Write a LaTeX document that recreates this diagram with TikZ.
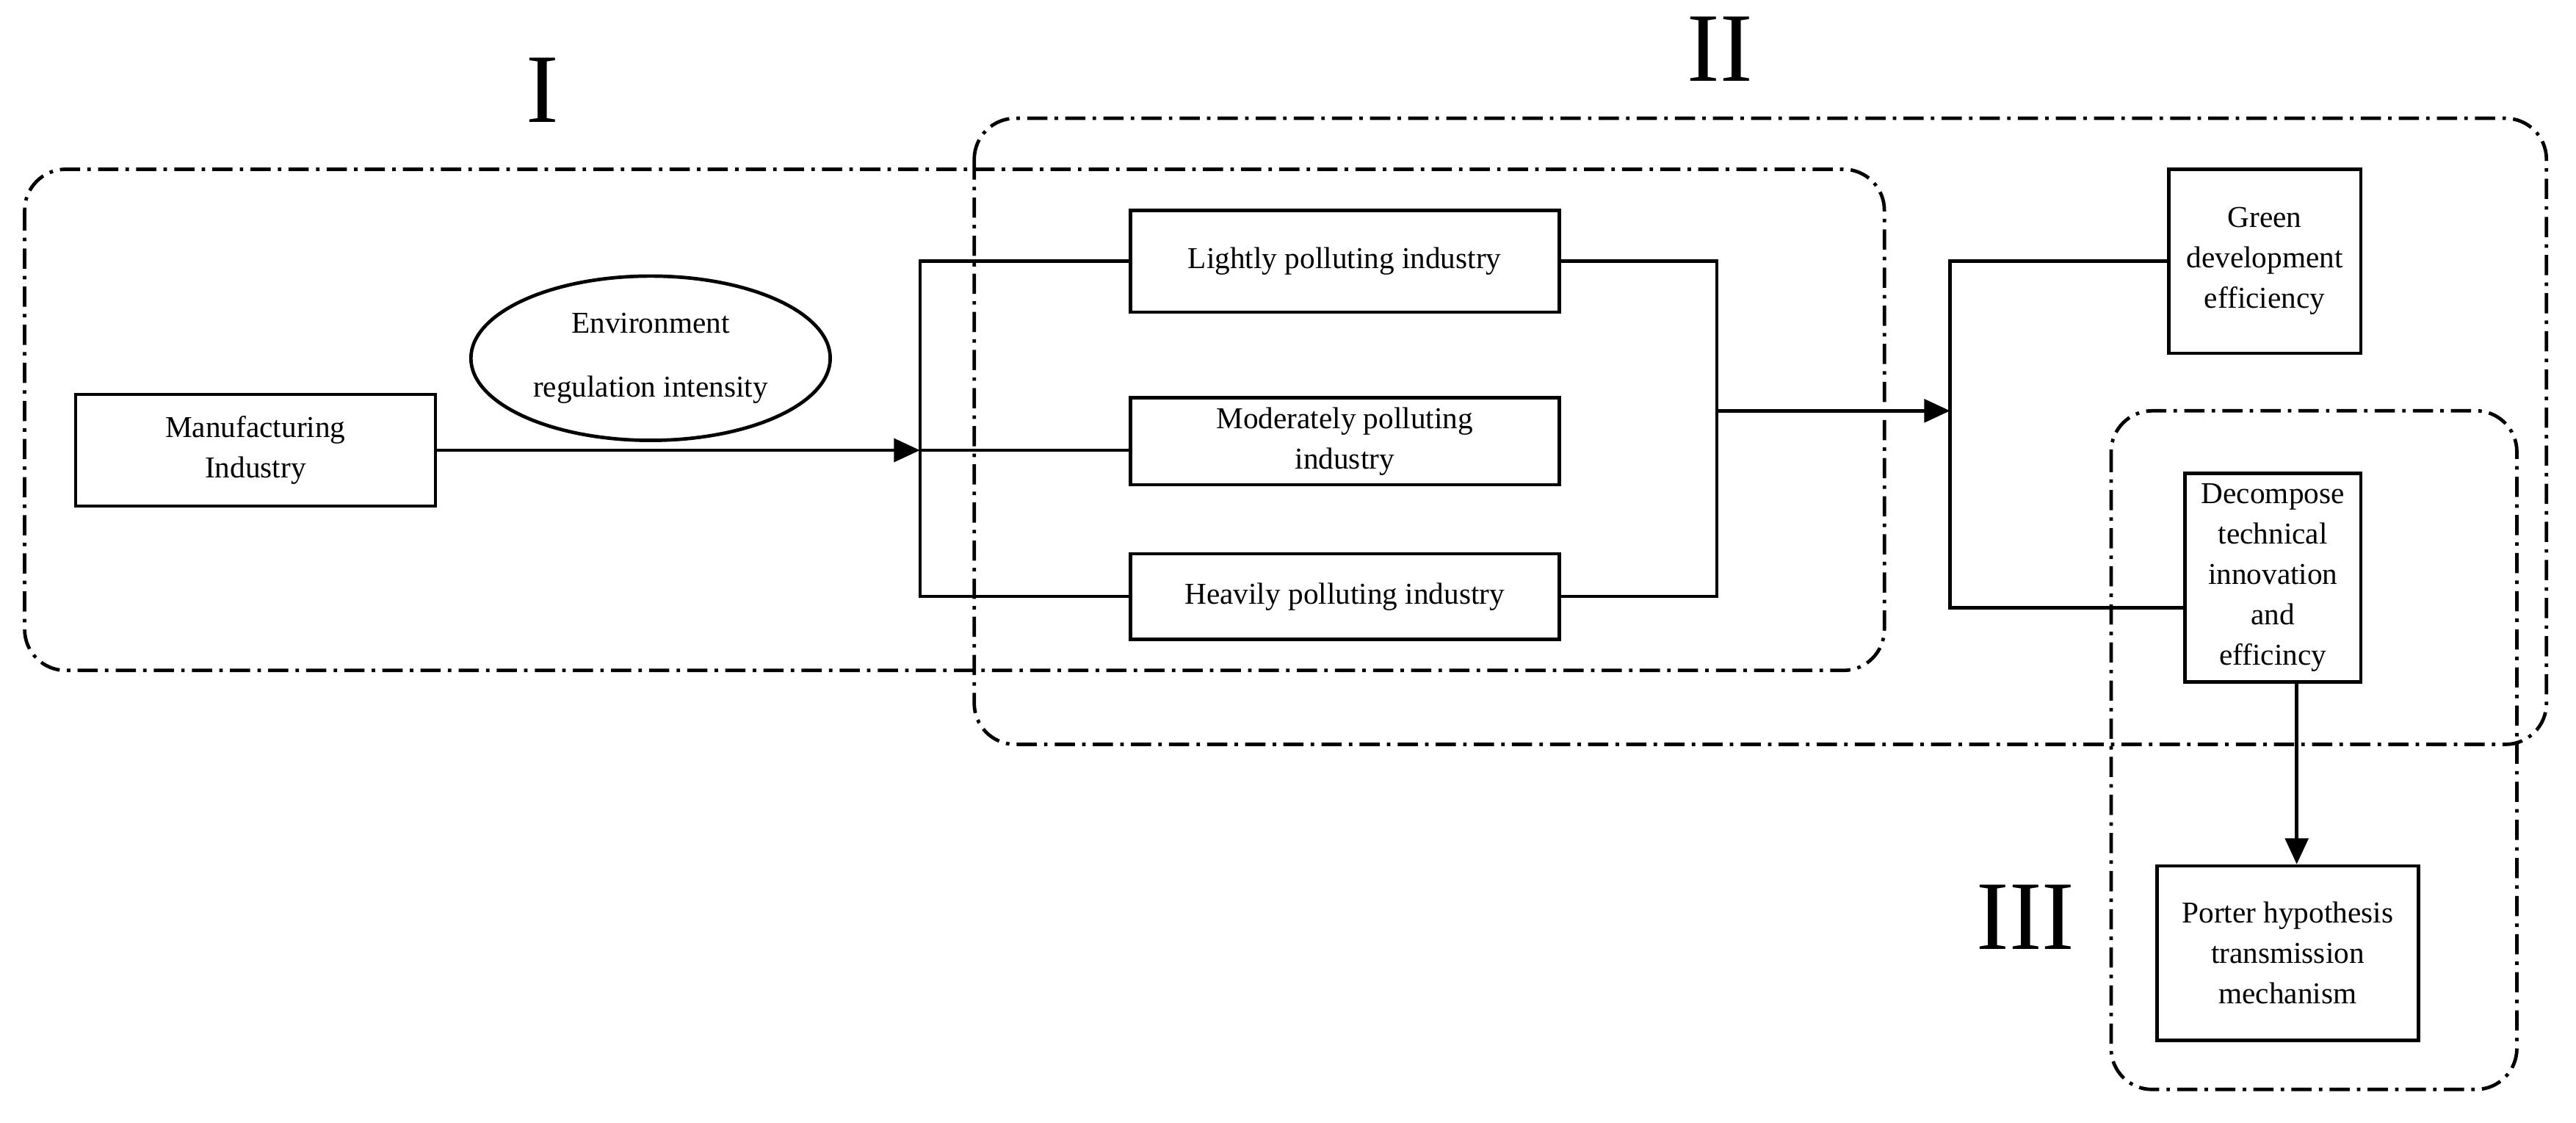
\documentclass[tikz,border=0pt]{standalone}
\usepackage{fontspec}
\setmainfont{Liberation Serif}
\usetikzlibrary{shapes.geometric,arrows.meta}
\begin{document}
\begin{tikzpicture}[x=0.02cm,y=-0.02cm,
  box/.style={draw,line width=1.2pt,inner sep=0pt,align=center,font=\fontsize{10.5}{14}\selectfont},
  grp/.style={line width=1.2pt,rounded corners=0.5cm,dash pattern=on 7pt off 2.5pt on 1.2pt off 2.5pt},
  ln/.style={line width=1.2pt},
  arr/.style={ln,-{Triangle[length=9pt,width=8pt]}},
  num/.style={font=\fontsize{34}{34}\selectfont}]
\useasboundingbox (0,0) rectangle (1568,683);
\draw[grp] (15,103) rectangle (1147,408);
\draw[grp] (593,72) rectangle (1550,453);
\draw[grp] (1285,250) rectangle (1532,663);
\node[num] (n1) at (330,55) {I};
\node[num] (n2) at (1047,30) {II};
\node[num] (n3) at (1233,558) {III};
\node[box,minimum width=219*0.02cm,minimum height=68*0.02cm] (man) at (155.5,274) {Manufacturing\\Industry};
\node[draw,ellipse,line width=1.2pt,minimum width=190*0.02cm,minimum height=100*0.02cm,align=center,font=\fontsize{10.5}{22}\selectfont] (env) at (396,218) {Environment\\regulation intensity};
\node[box,minimum width=261*0.02cm,minimum height=62*0.02cm] (lig) at (818.5,159) {Lightly polluting industry};
\node[box,minimum width=261*0.02cm,minimum height=53*0.02cm] (mod) at (818.5,268.5) {Moderately polluting\\industry};
\node[box,minimum width=261*0.02cm,minimum height=52*0.02cm] (hea) at (818.5,363) {Heavily polluting industry};
\node[box,minimum width=117*0.02cm,minimum height=112*0.02cm] (gre) at (1378.5,159) {Green\\development\\efficiency};
\node[box,minimum width=107*0.02cm,minimum height=127*0.02cm] (dec) at (1383.5,351.5) {Decompose\\technical\\innovation\\and\\efficincy};
\node[box,minimum width=159*0.02cm,minimum height=106*0.02cm] (por) at (1392.5,580) {Porter hypothesis\\transmission\\mechanism};
\coordinate (j1) at (560,274);
\coordinate (j2) at (1187,250);
\draw[arr] (man.east) -- (j1);
\draw[ln] (lig.west) -- (560,159) -- (560,363) -- (hea.west);
\draw[ln] (j1) -- (j1 -| mod.west);
\draw[ln] (lig.east) -- (1045,159) -- (1045,363) -- (hea.east);
\draw[arr] (1045,250) -- (j2);
\draw[ln] (gre.west) -- (1187,159) -- (1187,370) -- (1330,370);
\draw[arr] (dec.south -| 1398,0) -- (por.north -| 1398,0);
\end{tikzpicture}
\end{document}
